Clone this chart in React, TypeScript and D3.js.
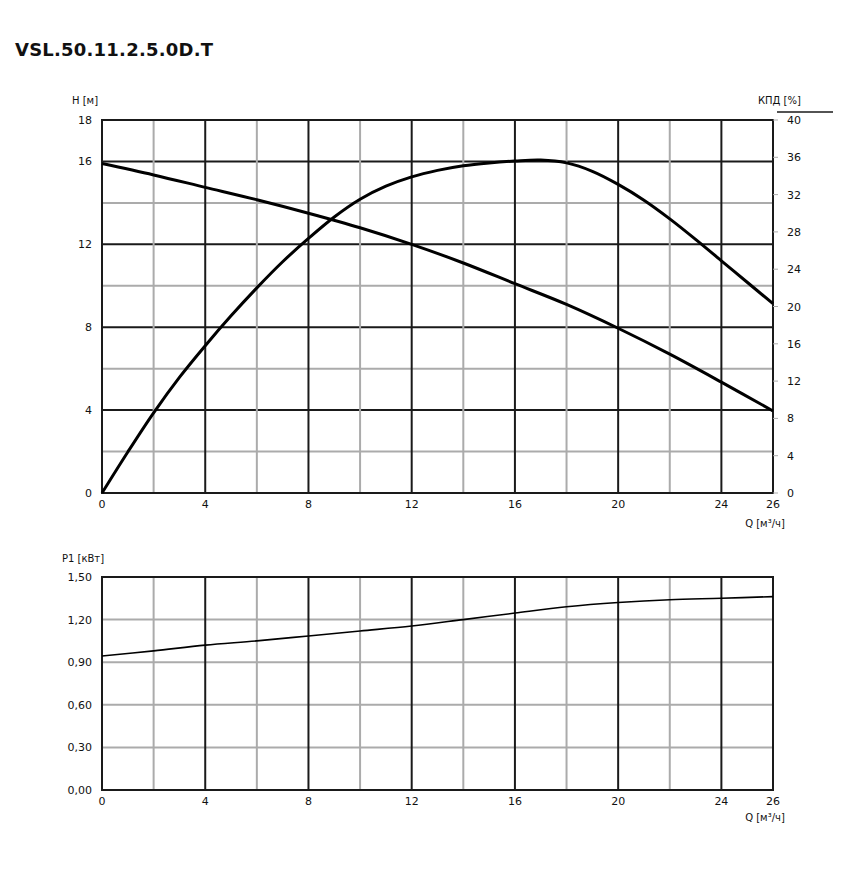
import React from "react";
import * as d3 from "d3";

const title = "VSL.50.11.2.5.0D.T";
const qTicks = [0, 4, 8, 12, 16, 20, 24, 26];
const qGrid = [2, 4, 6, 8, 10, 12, 14, 16, 18, 20, 22, 24];
const hTicks = [0, 4, 8, 12, 16, 18];
const hGrid = [2, 4, 6, 8, 10, 12, 14, 16];
const kpdTicks = [0, 4, 8, 12, 16, 20, 24, 28, 32, 36, 40];
const pTicks = [0, 0.3, 0.6, 0.9, 1.2, 1.5];

const qH = [0, 2, 4, 6, 8, 10, 12, 14, 16, 18, 20, 22, 24, 26];
const hVals = [15.9, 15.35, 14.75, 14.15, 13.5, 12.8, 12.0, 11.1, 10.1, 9.1, 7.95, 6.7, 5.35, 3.96];

const qE = [0, 1, 2, 3, 4, 5, 6, 7, 8, 9, 10, 11, 12, 13, 14, 15, 16, 17, 18, 19, 20, 21, 22, 23, 24, 25, 26];
const eVals = [0, 4.4, 8.6, 12.4, 15.8, 19.0, 22.0, 24.8, 27.3, 29.6, 31.5, 32.9, 33.9, 34.6, 35.1, 35.4, 35.6, 35.7, 35.4, 34.5, 33.1, 31.4, 29.4, 27.2, 24.9, 22.6, 20.3];

const qP = [0, 2, 4, 6, 8, 10, 12, 14, 16, 18, 20, 22, 24, 26];
const pVals = [0.944, 0.98, 1.02, 1.05, 1.085, 1.12, 1.155, 1.2, 1.246, 1.29, 1.32, 1.34, 1.35, 1.362];

const FONT = "DejaVu Sans, Verdana, sans-serif";

export default function App() {
  const left = 102, right = 773;
  const x = d3.scaleLinear().domain([0, 26]).range([left, right]);
  const yH = d3.scaleLinear().domain([0, 18]).range([493, 120]);
  const yK = d3.scaleLinear().domain([0, 40]).range([493, 120]);
  const yP = d3.scaleLinear().domain([0, 1.5]).range([790, 577]);

  const lineH = d3.line<number>().x((_, i) => x(qH[i])).y((d) => yH(d)).curve(d3.curveCatmullRom.alpha(0.5));
  const lineE = d3.line<number>().x((_, i) => x(qE[i])).y((d) => yK(d)).curve(d3.curveCatmullRom.alpha(0.5));
  const lineP = d3.line<number>().x((_, i) => x(qP[i])).y((d) => yP(d)).curve(d3.curveCatmullRom.alpha(0.5));

  const dark = "#1a1a1a";
  const light = "#ababab";
  const isDarkQ = (q: number) => q % 4 === 0;

  const fmtP = (v: number) => v.toFixed(2).replace(".", ",");

  return (
    <svg width={848} height={873} style={{ display: "block", position: "absolute", left: 0, top: 0 }} fontFamily={FONT}>
      <rect width={848} height={873} fill="#fff" />
      <text x={15} y={56} fontSize={18} fontWeight="bold" fill="#111" textLength={198} lengthAdjust="spacing">{title}</text>

      {/* Top chart */}
      <g>
        {hGrid.map((h) => (
          <line key={"hg" + h} x1={left} x2={right} y1={yH(h)} y2={yH(h)} stroke={h % 4 === 0 ? dark : light} strokeWidth={2} />
        ))}
        {qGrid.map((q) => (
          <line key={"qg" + q} x1={x(q)} x2={x(q)} y1={yH(18)} y2={yH(0)} stroke={isDarkQ(q) ? dark : light} strokeWidth={2} />
        ))}
        <rect x={left} y={yH(18)} width={right - left} height={yH(0) - yH(18)} fill="none" stroke={dark} strokeWidth={2} />
        <path d={lineH(hVals) || ""} fill="none" stroke="#000" strokeWidth={3} />
        <path d={lineE(eVals) || ""} fill="none" stroke="#000" strokeWidth={3} />

        <text x={72} y={104} fontSize={10} fill="#111">H [м]</text>
        {hTicks.map((h) => (
          <text key={"ht" + h} x={92} y={yH(h) + 4} fontSize={11} textAnchor="end" fill="#111">{h}</text>
        ))}
        <text x={758} y={104} fontSize={10} fill="#111">КПД [%]</text>
        <line x1={777} x2={833} y1={112} y2={112} stroke={dark} strokeWidth={1.5} />
        {kpdTicks.map((k) => (
          <g key={"kt" + k}>
            <line x1={right} x2={right + 5} y1={yK(k)} y2={yK(k)} stroke={light} strokeWidth={1} />
            <text x={787} y={yK(k) + 4} fontSize={11} fill="#111">{k}</text>
          </g>
        ))}
        {qTicks.map((q) => (
          <text key={"qt" + q} x={x(q)} y={508} fontSize={11} textAnchor="middle" fill="#111">{q}</text>
        ))}
        <text x={765} y={527} fontSize={10} textAnchor="middle" fill="#111">Q [м³/ч]</text>
      </g>

      {/* Bottom chart */}
      <g>
        {pTicks.slice(1, -1).map((p) => (
          <line key={"pg" + p} x1={left} x2={right} y1={yP(p)} y2={yP(p)} stroke={light} strokeWidth={2} />
        ))}
        {qGrid.map((q) => (
          <line key={"qg2" + q} x1={x(q)} x2={x(q)} y1={yP(1.5)} y2={yP(0)} stroke={isDarkQ(q) ? dark : light} strokeWidth={2} />
        ))}
        <rect x={left} y={yP(1.5)} width={right - left} height={yP(0) - yP(1.5)} fill="none" stroke={dark} strokeWidth={2} />
        <path d={lineP(pVals) || ""} fill="none" stroke="#000" strokeWidth={1.6} />

        <text x={62} y={562} fontSize={10} fill="#111">P1 [кВт]</text>
        {pTicks.map((p) => (
          <text key={"pt" + p} x={92} y={yP(p) + 4} fontSize={11} textAnchor="end" fill="#111">{fmtP(p)}</text>
        ))}
        {qTicks.map((q) => (
          <text key={"qt2" + q} x={x(q)} y={805} fontSize={11} textAnchor="middle" fill="#111">{q}</text>
        ))}
        <text x={765} y={821} fontSize={10} textAnchor="middle" fill="#111">Q [м³/ч]</text>
      </g>
    </svg>
  );
}
